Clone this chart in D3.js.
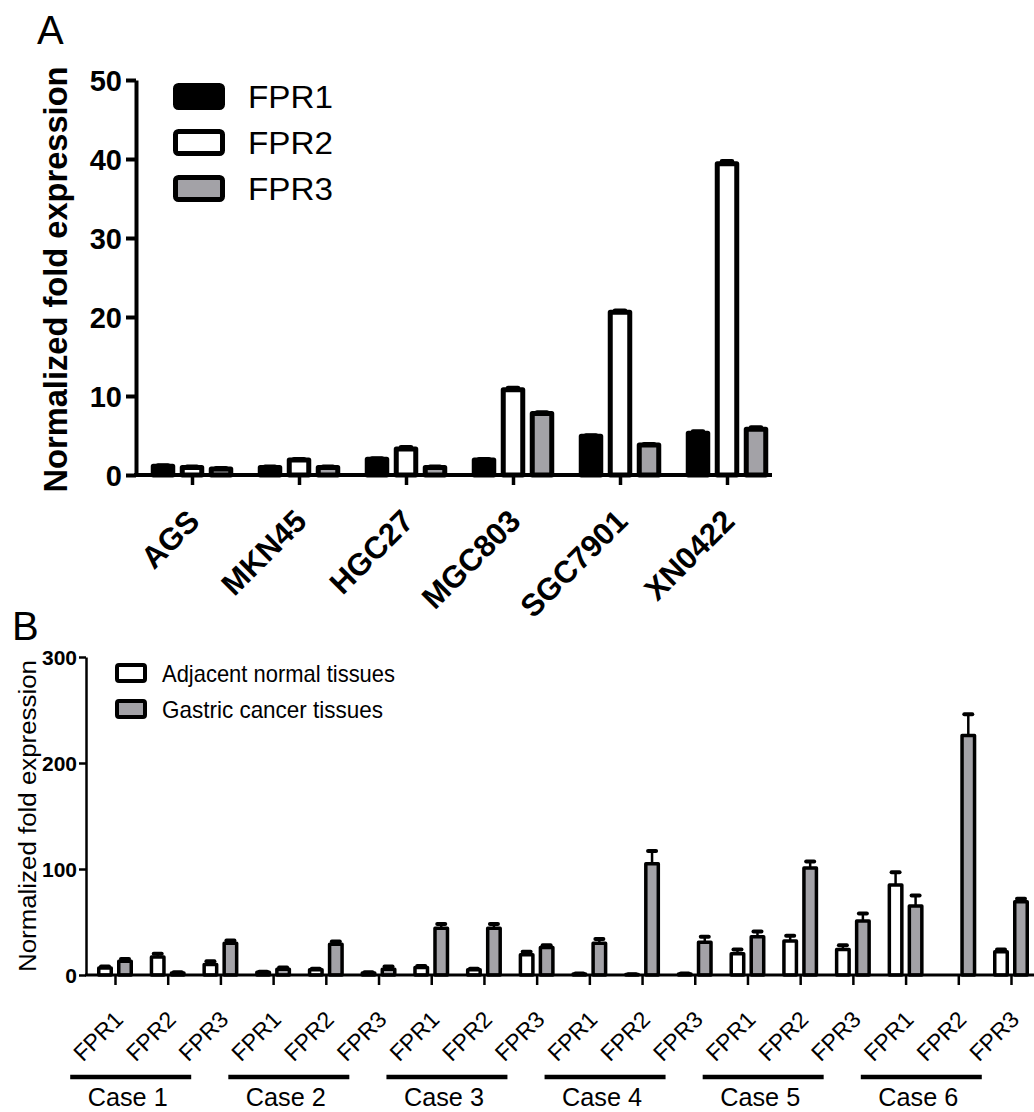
<!DOCTYPE html>
<html>
<head>
<meta charset="utf-8">
<script src="https://cdn.jsdelivr.net/npm/d3@7"></script>
<style>
  body { margin: 0; background: #fff; }
  svg text { font-family: "Liberation Sans", Arial, sans-serif; }
</style>
</head>
<body>
<div id="plot"></div>
<script>
// ---- data, panel A (cell lines) ----
const cellLines = ["AGS", "MKN45", "HGC27", "MGC803", "SGC7901", "XN0422"];
const seriesA = ["FPR1", "FPR2", "FPR3"];
const fpr1 = [1.1, 0.95, 2.0, 1.9, 4.9, 5.3];
const fpr2 = [0.95, 1.9, 3.3, 10.8, 20.6, 39.4];
const fpr3 = [0.75, 0.95, 0.95, 7.8, 3.8, 5.8];
const fpr1Err = [0.1, 0.1, 0.1, 0.1, 0.1, 0.2];
const fpr2Err = [0.1, 0.1, 0.2, 0.2, 0.2, 0.3];
const fpr3Err = [0.1, 0.1, 0.1, 0.1, 0.1, 0.2];
const ticksA = [0, 10, 20, 30, 40, 50];

// ---- data, panel B (tissues) ----
const cases = ["Case 1", "Case 2", "Case 3", "Case 4", "Case 5", "Case 6"];
const genes = ["FPR1", "FPR2", "FPR3"];
const seriesB = ["Adjacent normal tissues", "Gastric cancer tissues"];
const normal    = [6.5, 17, 10, 2.5, 5, 2, 7, 5, 19, 1, 0.5, 1, 20, 32, 24, 85, 0, 22];
const normalErr = [1.5, 3, 3, 0.5, 1, 0.5, 1.5, 1, 3, 0.3, 0.2, 0.3, 4, 5, 4, 12, 0, 2];
const cancer    = [13, 2, 30, 5.5, 29, 5.5, 44, 44, 26, 30, 105, 31, 36, 101, 51, 65, 226, 69];
const cancerErr = [2, 0.5, 2.5, 1.5, 2.5, 2.5, 4, 4, 2, 4, 12, 5, 5, 6, 7, 10, 20, 3];
const ticksB = [0, 100, 200, 300];

const grey = "#a3a2a7";

window.addEventListener("load", main)

function main(){

  const width = 1034, height = 1112;
  let svg = d3.select("#plot").append("svg")
    .attr("width", width)
    .attr("height", height);

  // error bar helper: stem + cap on top of each bar
  function errorBars(g, rows, x, y, capW, sw){
    let eb = g.append("g").selectAll("g").data(rows.filter(d => d.e > 0)).join("g");
    eb.append("line")
      .attr("x1", d => x(d)).attr("x2", d => x(d))
      .attr("y1", d => y(d.v)).attr("y2", d => y(d.v + d.e))
      .attr("stroke", "#000").attr("stroke-width", sw);
    eb.append("line")
      .attr("x1", d => x(d) - capW / 2).attr("x2", d => x(d) + capW / 2)
      .attr("y1", d => y(d.v + d.e)).attr("y2", d => y(d.v + d.e))
      .attr("stroke", "#000").attr("stroke-width", sw + 1.5)
      .attr("stroke-linecap", "round");
  }

  // =============== panel A ===============
  const A = {left: 136, right: 772, top: 80, bottom: 475};
  let yA = d3.scaleLinear().domain([0, 50]).range([A.bottom, A.top]);
  let xA = d3.scalePoint().domain(cellLines).range([192, 727]);
  let subA = d3.scalePoint().domain(seriesA).range([-29, 29]);
  const barWA = 19.5;
  const fillA = {FPR1: "#000", FPR2: "#fff", FPR3: grey};
  const valsA = {FPR1: fpr1, FPR2: fpr2, FPR3: fpr3};
  const errsA = {FPR1: fpr1Err, FPR2: fpr2Err, FPR3: fpr3Err};

  let rowsA = [];
  seriesA.forEach(s => cellLines.forEach((c, i) => {
    rowsA.push({cell: c, s: s, v: valsA[s][i], e: errsA[s][i]});
  }));

  let gA = svg.append("g").attr("id", "panelA");

  let xPosA = d => xA(d.cell) + subA(d.s);
  errorBars(gA, rowsA, xPosA, yA, 10, 3);

  gA.append("g").selectAll("rect")
    .data(rowsA)
    .join("rect")
      .attr("x", d => xPosA(d) - barWA / 2)
      .attr("y", d => yA(d.v))
      .attr("width", barWA)
      .attr("height", d => yA(0) - yA(d.v))
      .attr("fill", d => fillA[d.s])
      .attr("stroke", "#000")
      .attr("stroke-width", 5)
      .attr("stroke-linejoin", "round");

  // axes A
  let yAxisA = gA.append("g")
    .attr("transform", `translate(${A.left},0)`)
    .call(d3.axisLeft(yA).tickValues(ticksA).tickSize(10).tickSizeOuter(0).tickPadding(4));
  yAxisA.select(".domain").attr("stroke-width", 4);
  yAxisA.selectAll(".tick line").attr("stroke-width", 4);
  yAxisA.selectAll("text")
    .attr("font-size", 29).attr("font-weight", "bold")
    .attr("font-family", "Liberation Sans, Arial, sans-serif")
    .attr("dy", "0.36em");

  let xAxisA = gA.append("g")
    .attr("transform", `translate(0,${A.bottom})`)
    .call(d3.axisBottom(xA).tickSize(10).tickSizeOuter(0));
  xAxisA.select(".domain").remove();
  xAxisA.append("line")
    .attr("x1", A.left - 2).attr("x2", A.right)
    .attr("stroke", "#000").attr("stroke-width", 4);
  xAxisA.selectAll(".tick line").attr("stroke-width", 3.5);
  xAxisA.selectAll(".tick text")
    .attr("x", 0).attr("y", 0).attr("dy", 0)
    .attr("text-anchor", "end")
    .attr("transform", "translate(9,48) rotate(-45)")
    .attr("font-size", 31).attr("font-weight", "bold")
    .attr("font-family", "Liberation Sans, Arial, sans-serif");

  // axis title A
  gA.append("text")
    .attr("transform", `translate(67,${(A.top + A.bottom) / 2 + 2}) rotate(-90)`)
    .attr("text-anchor", "middle")
    .attr("font-size", 33).attr("font-weight", "bold")
    .attr("textLength", 426).attr("lengthAdjust", "spacingAndGlyphs")
    .text("Normalized fold expression");

  gA.append("text").attr("x", 37).attr("y", 44)
    .attr("font-size", 40).text("A");

  // legend A
  let legA = gA.append("g").selectAll("g").data(seriesA).join("g")
    .attr("transform", (d, i) => `translate(175.5,${85.5 + i * 46})`);
  legA.append("rect")
    .attr("width", 47).attr("height", 22).attr("rx", 3)
    .attr("fill", d => fillA[d])
    .attr("stroke", "#000").attr("stroke-width", 5);
  legA.append("text")
    .attr("x", 72.5).attr("y", 22)
    .attr("font-size", 31)
    .attr("textLength", 85).attr("lengthAdjust", "spacingAndGlyphs")
    .text(d => d);

  // =============== panel B ===============
  const B = {left: 86, right: 1034, top: 657, bottom: 975};
  let groups = [];
  cases.forEach(c => genes.forEach(g => groups.push({c: c, g: g})));
  let idx = groups.map((d, i) => i);

  let yB = d3.scaleLinear().domain([0, 300]).range([B.bottom, B.top]);
  let xB = d3.scalePoint().domain(idx).range([115, 1011]);
  let subB = d3.scalePoint().domain(seriesB).range([-10, 10]);
  const barWB = 12.5;
  const fillB = {[seriesB[0]]: "#fff", [seriesB[1]]: grey};

  let rowsB = [];
  idx.forEach(i => {
    rowsB.push({i: i, s: seriesB[0], v: normal[i], e: normalErr[i]});
    rowsB.push({i: i, s: seriesB[1], v: cancer[i], e: cancerErr[i]});
  });

  let gB = svg.append("g").attr("id", "panelB");
  let xPosB = d => xB(d.i) + subB(d.s);
  errorBars(gB, rowsB, xPosB, yB, 8, 2.5);

  gB.append("g").selectAll("rect")
    .data(rowsB)
    .join("rect")
      .attr("x", d => xPosB(d) - barWB / 2)
      .attr("y", d => yB(d.v))
      .attr("width", barWB)
      .attr("height", d => yB(0) - yB(d.v))
      .attr("fill", d => fillB[d.s])
      .attr("stroke", "#000")
      .attr("stroke-width", 3.5)
      .attr("stroke-linejoin", "round");

  let yAxisB = gB.append("g")
    .attr("transform", `translate(${B.left},0)`)
    .call(d3.axisLeft(yB).tickValues(ticksB).tickSize(7).tickSizeOuter(0).tickPadding(2));
  yAxisB.select(".domain").attr("stroke-width", 2.5);
  yAxisB.selectAll(".tick line").attr("stroke-width", 2.5);
  yAxisB.selectAll("text")
    .attr("font-size", 21).attr("font-weight", "bold")
    .attr("font-family", "Liberation Sans, Arial, sans-serif")
    .attr("dy", "0.36em");

  let xAxisB = gB.append("g")
    .attr("transform", `translate(0,${B.bottom})`)
    .call(d3.axisBottom(xB).tickSize(10).tickSizeOuter(0).tickFormat(i => groups[i].g));
  xAxisB.select(".domain").remove();
  xAxisB.append("line")
    .attr("x1", B.left - 1).attr("x2", B.right)
    .attr("stroke", "#000").attr("stroke-width", 3);
  xAxisB.selectAll(".tick line").attr("stroke-width", 2.5);
  xAxisB.selectAll(".tick text")
    .attr("x", 0).attr("y", 0).attr("dy", 0)
    .attr("text-anchor", "end")
    .attr("transform", "translate(9,46) rotate(-45)")
    .attr("font-size", 23)
    .attr("font-family", "Liberation Sans, Arial, sans-serif");

  // case brackets under each trio of genes
  let caseG = gB.append("g").selectAll("g").data(cases).join("g")
    .attr("transform", (d, k) => `translate(${xB(k * 3 + 1) - 37},0)`);
  caseG.append("line")
    .attr("x1", -60.5).attr("x2", 60.5)
    .attr("y1", 1077).attr("y2", 1077)
    .attr("stroke", "#000").attr("stroke-width", 4.5);
  caseG.append("text")
    .attr("x", -3).attr("y", 1106)
    .attr("text-anchor", "middle")
    .attr("font-size", 26)
    .attr("textLength", 80).attr("lengthAdjust", "spacingAndGlyphs")
    .text(d => d);

  gB.append("text")
    .attr("transform", `translate(36,${(660 + 972) / 2}) rotate(-90)`)
    .attr("text-anchor", "middle")
    .attr("font-size", 23)
    .attr("textLength", 312).attr("lengthAdjust", "spacingAndGlyphs")
    .text("Normalized fold expression");

  gB.append("text").attr("x", 12).attr("y", 640)
    .attr("font-size", 40).text("B");

  // legend B
  let legB = gB.append("g").selectAll("g").data(seriesB).join("g")
    .attr("transform", (d, i) => `translate(117,${665 + i * 36})`);
  legB.append("rect")
    .attr("width", 28).attr("height", 16).attr("rx", 2)
    .attr("fill", d => fillB[d])
    .attr("stroke", "#000").attr("stroke-width", 4);
  legB.append("text")
    .attr("x", 45).attr("y", 16.5)
    .attr("font-size", 24)
    .attr("textLength", d => d === seriesB[0] ? 233 : 221).attr("lengthAdjust", "spacingAndGlyphs")
    .text(d => d);

} // end of main
</script>
</body>
</html>
